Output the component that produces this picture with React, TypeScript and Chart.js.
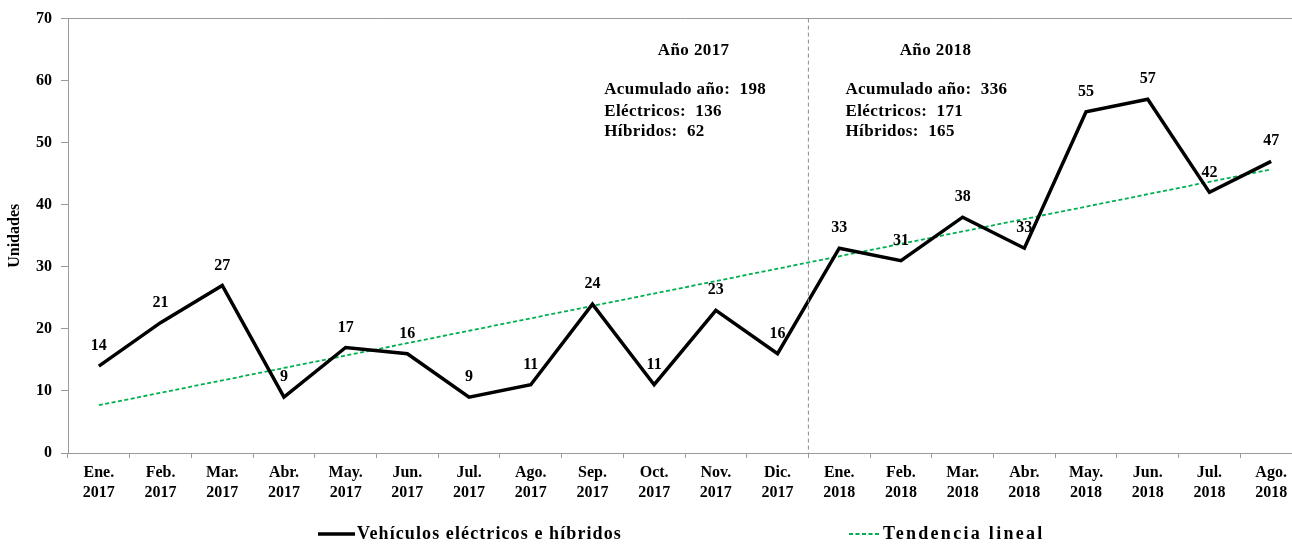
import React, { useEffect, useRef } from "react";
import { Chart, registerables } from "chart.js";

Chart.register(...registerables);

const months = ["Ene.", "Feb.", "Mar.", "Abr.", "May.", "Jun.", "Jul.", "Ago.", "Sep.", "Oct.", "Nov.", "Dic.", "Ene.", "Feb.", "Mar.", "Abr.", "May.", "Jun.", "Jul.", "Ago."];
const years = ["2017", "2017", "2017", "2017", "2017", "2017", "2017", "2017", "2017", "2017", "2017", "2017", "2018", "2018", "2018", "2018", "2018", "2018", "2018", "2018"];
const units = [14, 21, 27, 9, 17, 16, 9, 11, 24, 11, 23, 16, 33, 31, 38, 33, 55, 57, 42, 47];
const trend = [7.7, 9.7, 11.7, 13.7, 15.7, 17.7, 19.7, 21.7, 23.7, 25.7, 27.7, 29.7, 31.7, 33.7, 35.7, 37.7, 39.7, 41.7, 43.7, 45.7];

const seriesLabel = "Vehículos eléctricos e híbridos";
const trendLabel = "Tendencia lineal";

const block2017 = ["Año 2017", "Acumulado año:  198", "Eléctricos:  136", "Híbridos:  62"];
const block2018 = ["Año 2018", "Acumulado año:  336", "Eléctricos:  171", "Híbridos:  165"];

const FONT = "'Liberation Serif', 'Times New Roman', serif";
const AXIS_GRAY = "#9a9a9a";
const GREEN = "#00B050";

const overlayPlugin = {
  id: "overlay",
  afterDatasetsDraw(chart: any) {
    const ctx = chart.ctx;
    const x = chart.scales.x;
    const y = chart.scales.y;
    const area = chart.chartArea;
    ctx.save();
    // divider between years
    const xd = (x.getPixelForValue(11) + x.getPixelForValue(12)) / 2;
    ctx.strokeStyle = "#8a8a8a";
    ctx.lineWidth = 1;
    ctx.setLineDash([4, 3]);
    ctx.beginPath();
    ctx.moveTo(xd, area.top);
    ctx.lineTo(xd, area.bottom);
    ctx.stroke();
    ctx.setLineDash([]);

    // data labels
    const meta = chart.getDatasetMeta(0);
    ctx.fillStyle = "#000";
    ctx.font = `bold 16px ${FONT}`;
    ctx.textAlign = "center";
    ctx.textBaseline = "middle";
    meta.data.forEach((pt: any, i: number) => {
      ctx.fillText(String(units[i]), pt.x, pt.y - 20);
    });

    // year blocks
    const drawBlock = (lines: string[], cx: number, lx: number) => {
      ctx.font = `bold 17px ${FONT}`;
      (ctx as any).letterSpacing = "0.4px";
      ctx.textAlign = "center";
      ctx.fillText(lines[0], x.getPixelForValue(cx), y.getPixelForValue(64.9));
      ctx.textAlign = "left";
      const ys = [58.5, 55.0, 51.8];
      for (let k = 1; k < lines.length; k++) {
        ctx.fillText(lines[k], x.getPixelForValue(lx), y.getPixelForValue(ys[k - 1]));
      }
      (ctx as any).letterSpacing = "0px";
    };
    drawBlock(block2017, 9.64, 8.19);
    drawBlock(block2018, 13.56, 12.1);
    ctx.restore();
  },
  afterDraw(chart: any) {
    const ctx = chart.ctx;
    const ly = chart.height - 10;
    ctx.save();
    ctx.textBaseline = "middle";
    ctx.textAlign = "left";
    ctx.fillStyle = "#000";
    ctx.font = `bold 18px ${FONT}`;
    // item 1
    ctx.strokeStyle = "#000";
    ctx.lineWidth = 3.5;
    ctx.beginPath();
    ctx.moveTo(318, ly);
    ctx.lineTo(355, ly);
    ctx.stroke();
    (ctx as any).letterSpacing = "1.1px";
    ctx.fillText(chart.data.datasets[0].label, 357, ly);
    // item 2
    ctx.strokeStyle = GREEN;
    ctx.lineWidth = 1.8;
    ctx.setLineDash([4, 2.5]);
    ctx.beginPath();
    ctx.moveTo(849, ly);
    ctx.lineTo(880, ly);
    ctx.stroke();
    ctx.setLineDash([]);
    (ctx as any).letterSpacing = "2.3px";
    ctx.fillText(chart.data.datasets[1].label, 883, ly);
    ctx.restore();
  },
};

export default function App() {
  const ref = useRef<HTMLCanvasElement | null>(null);
  useEffect(() => {
    if (!ref.current) return;
    const chart = new Chart(ref.current, {
      type: "line",
      data: {
        labels: months.map((m, i) => [m, years[i]]),
        datasets: [
          {
            label: seriesLabel,
            data: units,
            borderColor: "#000",
            borderWidth: 3.5,
            pointRadius: 0,
            tension: 0,
            fill: false,
          },
          {
            label: trendLabel,
            data: trend,
            borderColor: GREEN,
            borderWidth: 1.8,
            borderDash: [4, 2.5],
            pointRadius: 0,
            tension: 0,
            fill: false,
          },
        ],
      },
      options: {
        animation: false,
        responsive: true,
        maintainAspectRatio: false,
        layout: { padding: { left: 0, right: 2, top: 16, bottom: 36 } },
        plugins: {
          legend: { display: false },
          tooltip: { enabled: false },
          title: { display: false },
        },
        scales: {
          x: {
            type: "category",
            offset: true,
            grid: {
              display: true,
              drawOnChartArea: false,
              offset: true,
              tickLength: 5,
              tickColor: AXIS_GRAY,
            },
            border: { color: AXIS_GRAY, width: 1 },
            ticks: {
              color: "#000",
              padding: 5,
              maxRotation: 0,
              autoSkip: false,
              font: { family: FONT, size: 16, weight: "bold", lineHeight: 1.25 },
            },
            afterFit(s: any) {
              s.height = 55;
            },
          },
          y: {
            min: 0,
            max: 70,
            ticks: {
              stepSize: 10,
              color: "#000",
              padding: 9,
              font: { family: FONT, size: 16, weight: "bold" },
            },
            grid: {
              color: (c: any) => (c.tick && c.tick.value === 70 ? AXIS_GRAY : "rgba(0,0,0,0)"),
              tickColor: AXIS_GRAY,
              tickLength: 7,
            },
            border: { color: AXIS_GRAY, width: 1 },
            title: {
              display: true,
              text: "Unidades",
              color: "#000",
              font: { family: FONT, size: 16, weight: "bold" },
              padding: { top: 5, bottom: 0 },
            },
            afterFit(s: any) {
              s.width = 68;
            },
          },
        },
      },
      plugins: [overlayPlugin],
    } as any);
    return () => chart.destroy();
  }, []);
  return (
    <div style={{ position: "fixed", left: 0, top: 0, width: 1292, height: 544, overflow: "hidden", background: "#fff" }}>
      <div style={{ position: "relative", width: 1304, height: 544 }}>
        <canvas ref={ref} />
      </div>
    </div>
  );
}
